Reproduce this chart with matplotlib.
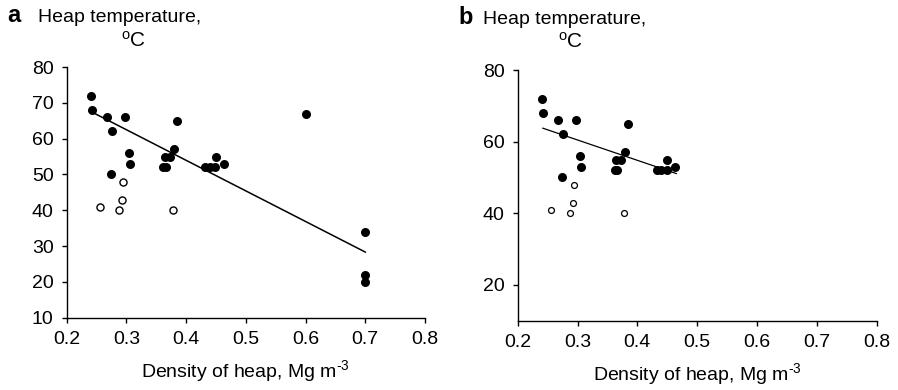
import matplotlib.pyplot as plt
import numpy as np

plt.rcParams['font.family'] = ['Liberation Sans', 'DejaVu Sans']
plt.rcParams['mathtext.fontset'] = 'custom'
plt.rcParams['mathtext.rm'] = 'Liberation Sans'
plt.rcParams['mathtext.it'] = 'Liberation Sans:italic'

# heaps with filled markers
dens_filled = [0.241, 0.242, 0.268, 0.297, 0.275, 0.385, 0.304, 0.306, 0.274,
               0.364, 0.373, 0.379, 0.362, 0.366, 0.450, 0.463, 0.432, 0.440,
               0.449, 0.600, 0.700, 0.700, 0.700]
temp_filled = [72, 68, 66, 66, 62, 65, 56, 53, 50,
               55, 55, 57, 52, 52, 55, 53, 52, 52,
               52, 67, 34, 22, 20]
# heaps with open markers
dens_open = [0.256, 0.294, 0.293, 0.288, 0.378]
temp_open = [41, 48, 43, 40, 40]

# trend lines: slope, intercept, x range
fit_a = (-85.4, 88.1)
fit_a_range = [0.242, 0.70]
fit_b = (-56.8, 77.5)
fit_b_range = [0.242, 0.465]

xticks = [0.2, 0.3, 0.4, 0.5, 0.6, 0.7, 0.8]
yticks_a = [10, 20, 30, 40, 50, 60, 70, 80]
yticks_b = [20, 40, 60, 80]

fs = 14
fig = plt.figure(figsize=(8.98, 3.9), dpi=100)
ax_a = fig.add_axes([0.0743, 0.1854, 0.399, 0.6428])
ax_b = fig.add_axes([0.5765, 0.1777, 0.3998, 0.6428])

def style(ax, yticks):
    ax.spines['top'].set_visible(False)
    ax.spines['right'].set_visible(False)
    ax.spines['left'].set_linewidth(1.0)
    ax.spines['bottom'].set_linewidth(1.0)
    ax.set_xlim(0.2, 0.8)
    ax.set_ylim(10, 80)
    ax.set_xticks(xticks)
    ax.set_xticklabels([f'{t:.1f}' for t in xticks])
    ax.set_yticks(yticks)
    ax.tick_params(direction='out', length=3.5, width=1.0, pad=6, labelsize=fs)
    ax.set_xlabel('Density of heap, Mg m$^{\\mathrm{\u2010}3}$', fontsize=fs, labelpad=7)

# panel a: all heaps
xf = np.array(dens_filled)
yf = np.array(temp_filled)
ax_a.scatter(dens_filled, temp_filled, s=30, c='black', zorder=3)
ax_a.scatter(dens_open, temp_open, s=26, facecolors='white', edgecolors='black',
             linewidths=1.0, zorder=3)
xl = np.array(fit_a_range)
ax_a.plot(xl, fit_a[0] * xl + fit_a[1], color='black', lw=1.1)
style(ax_a, yticks_a)

# panel b: heaps below 0.5 Mg m-3
sel = xf < 0.5
ax_b.scatter(xf[sel], yf[sel], s=30, c='black', zorder=3)
ax_b.scatter(dens_open, temp_open, s=18, facecolors='white', edgecolors='black',
             linewidths=0.9, zorder=3)
xl2 = np.array(fit_b_range)
ax_b.plot(xl2, fit_b[0] * xl2 + fit_b[1], color='black', lw=0.9)
style(ax_b, yticks_b)

H = 390.0
W = 898.0
fig.text(7 / W, 1 - 22 / H, 'a', fontsize=fs + 3, fontweight='bold', va='baseline')
fig.text(38 / W, 1 - 22 / H, 'Heap temperature,', fontsize=fs, va='baseline')
fig.text(134 / W, 1 - 47 / H, '$^{\\mathrm{o}}$C', fontsize=fs + 1, va='baseline', ha='center')
fig.text(458 / W, 1 - 24 / H, 'b', fontsize=fs + 3, fontweight='bold', va='baseline')
fig.text(483 / W, 1 - 24 / H, 'Heap temperature,', fontsize=fs, va='baseline')
fig.text(571 / W, 1 - 48 / H, '$^{\\mathrm{o}}$C', fontsize=fs + 1, va='baseline', ha='center')

fig.savefig('out.png', dpi=100)
